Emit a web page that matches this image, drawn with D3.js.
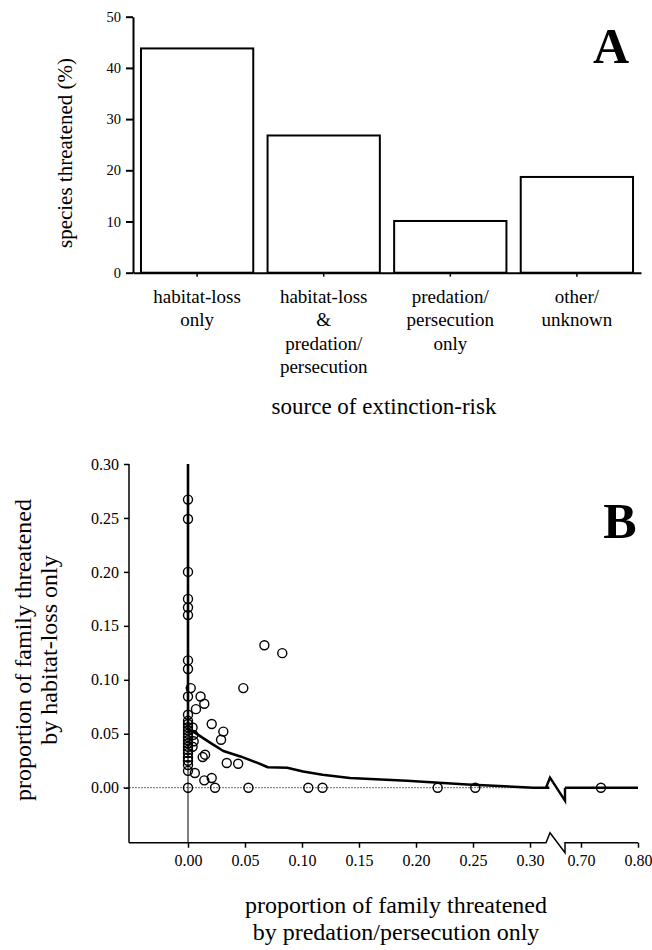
<!DOCTYPE html>
<html>
<head>
<meta charset="utf-8">
<script src="https://cdn.jsdelivr.net/npm/d3@7"></script>
<style>
  body { margin: 0; background: #fff; }
  svg { display: block; }
</style>
</head>
<body>
<div id="chart"></div>
<script>
// Panel A: share of threatened species by source of risk
const categories = [
  ["habitat-loss", "only"],
  ["habitat-loss", "&", "predation/", "persecution"],
  ["predation/", "persecution", "only"],
  ["other/", "unknown"]
];
const percentThreatened = [43.8, 26.8, 10.1, 18.7];
const yTicksA = [0, 10, 20, 30, 40, 50];

// Panel B: family proportions (x = predation/persecution only, y = habitat-loss only)
const pointX = [
  0, 0, 0, 0, 0, 0, 0, 0, 0, 0, 0,
  0, 0, 0, 0, 0, 0, 0, 0, 0, 0, 0, 0, 0, 0, 0,
  0.0024, 0.011, 0.0143, 0.007, 0.0208, 0.031, 0.029, 0.0047, 0.004, 0.005, 0.004,
  0.015, 0.0129, 0.034, 0.044, 0.006, 0.0143, 0.0208, 0.0237,
  0.067, 0.0827, 0.0485,
  0.053, 0.1055, 0.118, 0.219, 0.252, 0.735
];
const pointY = [
  0.267, 0.249, 0.200, 0.175, 0.167, 0.160, 0.118, 0.110, 0.0845, 0.0676, 0,
  0.062, 0.059, 0.056, 0.053, 0.050, 0.047, 0.044, 0.041, 0.038, 0.035, 0.032, 0.028, 0.025, 0.021, 0.0156,
  0.0923, 0.0845, 0.0778, 0.0728, 0.059, 0.052, 0.0444, 0.049, 0.0558, 0.043, 0.038,
  0.0306, 0.0284, 0.0229, 0.0222, 0.0136, 0.0068, 0.009, 0,
  0.132, 0.1247, 0.0923,
  0, 0, 0, 0, 0, 0
];
// fitted curve, left of the axis break
const curveX = [0, 0, 0.006, 0.019, 0.031, 0.046, 0.061, 0.070, 0.087, 0.101, 0.118, 0.142, 0.192, 0.245, 0.303, 0.317];
const curveY = [0.30, 0.054, 0.051, 0.042, 0.034, 0.029, 0.023, 0.019, 0.0185, 0.015, 0.012, 0.009, 0.0065, 0.003, 0, 0];
// fitted curve, right of the axis break
const curveRightX = [0.672, 0.80];
const curveRightY = [0, 0];
const xTicksLeft = [0, 0.05, 0.10, 0.15, 0.20, 0.25, 0.30];
const xTicksRight = [0.70, 0.80];
const yTicksB = [0, 0.05, 0.10, 0.15, 0.20, 0.25, 0.30];

const serif = '"Liberation Serif", "Times New Roman", Times, "DejaVu Serif", serif';
const width = 652, height = 950;
const svg = d3.select("#chart").append("svg")
  .attr("width", width)
  .attr("height", height)
  .attr("font-family", serif);

// ---------- Panel A ----------
const xA = d3.scaleBand()
  .domain(categories.map((c, i) => i))
  .range([133, 641])
  .paddingInner(0.113)
  .paddingOuter(0.063);

const yA = d3.scaleLinear()
  .domain([0, 50])
  .range([272.7, 16.7]);

const gA = svg.append("g");

gA.selectAll(".bar")
  .data(percentThreatened)
  .enter()
  .append("rect")
  .attr("class", "bar")
  .attr("x", (d, i) => xA(i))
  .attr("y", d => yA(d))
  .attr("width", xA.bandwidth())
  .attr("height", d => yA(0) - yA(d))
  .attr("fill", "#fff")
  .attr("stroke", "#000")
  .attr("stroke-width", 2);

const yAxisA = gA.append("g")
  .attr("transform", "translate(133,0)")
  .call(d3.axisLeft(yA).tickValues(yTicksA).tickSizeInner(7).tickSizeOuter(0).tickPadding(5))
  .attr("font-family", serif)
  .attr("font-size", 14.5);
yAxisA.selectAll("text").attr("fill", "#000");
yAxisA.selectAll("path, line").attr("stroke", "#000").attr("stroke-width", 2);

const xAxisA = gA.append("g")
  .attr("transform", `translate(0,${yA(0)})`)
  .call(d3.axisBottom(xA).tickSizeInner(4).tickSizeOuter(0).tickFormat(""));
xAxisA.select("path.domain").attr("stroke", "#000").attr("stroke-width", 2);
xAxisA.selectAll("line").attr("stroke", "#000").attr("stroke-width", 1.5);

const catLabels = gA.selectAll(".cat")
  .data(categories)
  .enter()
  .append("text")
  .attr("class", "cat")
  .attr("text-anchor", "middle")
  .attr("font-size", 19);
catLabels.each(function(lines, i) {
  const t = d3.select(this);
  lines.forEach((ln, j) => {
    t.append("tspan")
      .attr("x", xA(i) + xA.bandwidth() / 2)
      .attr("y", 303 + j * 23.3)
      .text(ln);
  });
});

gA.append("text")
  .attr("transform", "translate(72,153) rotate(-90)")
  .attr("text-anchor", "middle")
  .attr("font-size", 21)
  .text("species threatened (%)");

gA.append("text")
  .attr("x", 384)
  .attr("y", 414)
  .attr("text-anchor", "middle")
  .attr("font-size", 23)
  .text("source of extinction-risk");

gA.append("text")
  .attr("x", 611)
  .attr("y", 63)
  .attr("text-anchor", "middle")
  .attr("font-size", 50)
  .attr("font-weight", "bold")
  .text("A");

// ---------- Panel B ----------
const xL = d3.scaleLinear().domain([0, 0.30]).range([188, 530]);
const xR = d3.scaleLinear().domain([0.70, 0.80]).range([581, 638]);
const xB = v => (v > 0.5 ? xR(v) : xL(v));
const yB = d3.scaleLinear().domain([0, 0.30]).range([787.7, 464]);
const axisX0 = 129;
const axisY0 = yB(-0.051);
const breakL = 550, breakR = 565;

const gB = svg.append("g");

// reference lines at zero
gB.append("line")
  .attr("x1", 123).attr("x2", breakL - 4)
  .attr("y1", yB(0)).attr("y2", yB(0))
  .attr("stroke", "#444").attr("stroke-width", 0.8)
  .attr("stroke-dasharray", "2,1");
gB.append("line")
  .attr("x1", xL(0)).attr("x2", xL(0))
  .attr("y1", yB(0.30)).attr("y2", axisY0)
  .attr("stroke", "#000").attr("stroke-width", 1);

// axes
const yAxisB = gB.append("g")
  .attr("transform", `translate(${axisX0},0)`)
  .call(d3.axisLeft(yB).tickValues(yTicksB).tickFormat(d3.format(".2f")).tickSizeInner(5).tickSizeOuter(0).tickPadding(5))
  .attr("font-family", serif)
  .attr("font-size", 16);
yAxisB.select("path.domain").remove();
yAxisB.selectAll("line").attr("stroke", "#000").attr("stroke-width", 1.5);
gB.append("line")
  .attr("x1", axisX0).attr("x2", axisX0)
  .attr("y1", yB(0.30)).attr("y2", axisY0)
  .attr("stroke", "#000").attr("stroke-width", 1.5);

const xAxisBL = gB.append("g")
  .attr("transform", `translate(0,${axisY0})`)
  .call(d3.axisBottom(xL).tickValues(xTicksLeft).tickFormat(d3.format(".2f")).tickSizeInner(5).tickSizeOuter(0).tickPadding(7));
const xAxisBR = gB.append("g")
  .attr("transform", `translate(0,${axisY0})`)
  .call(d3.axisBottom(xR).tickValues(xTicksRight).tickFormat(d3.format(".2f")).tickSizeInner(5).tickSizeOuter(0).tickPadding(7));
[xAxisBL, xAxisBR].forEach(a => {
  a.attr("font-family", serif).attr("font-size", 16);
  a.select("path.domain").remove();
  a.selectAll("line").attr("stroke", "#000").attr("stroke-width", 1.5);
});

// x axis line with break symbol
gB.append("path")
  .attr("d", `M${axisX0},${axisY0}H${breakL - 4}L${breakL},${axisY0 - 10}L${breakR},${axisY0 + 10}V${axisY0}H${xR(0.80)}`)
  .attr("fill", "none")
  .attr("stroke", "#000")
  .attr("stroke-width", 1.5);

// fitted curve
const line = d3.line().x(d => xL(d[0])).y(d => yB(d[1]));
gB.append("path")
  .datum(curveX.map((x, i) => [x, curveY[i]]))
  .attr("d", line)
  .attr("fill", "none")
  .attr("stroke", "#000")
  .attr("stroke-width", 2.6)
  .attr("stroke-linejoin", "round");
const lineR = d3.line().x(d => xR(d[0])).y(d => yB(d[1]));
gB.append("path")
  .datum(curveRightX.map((x, i) => [x, curveRightY[i]]))
  .attr("d", lineR)
  .attr("fill", "none")
  .attr("stroke", "#000")
  .attr("stroke-width", 2.6);
// break symbol on the curve
const y0 = yB(0);
gB.append("path")
  .attr("d", `M${breakL - 4},${y0}L${breakL},${y0 - 10}L${breakR},${y0 + 13}V${y0}`)
  .attr("fill", "none")
  .attr("stroke", "#000")
  .attr("stroke-width", 2.4);

// points
gB.selectAll(".pt")
  .data(pointX.map((x, i) => [x, pointY[i]]))
  .enter()
  .append("circle")
  .attr("class", "pt")
  .attr("cx", d => xB(d[0]))
  .attr("cy", d => yB(d[1]))
  .attr("r", 4.5)
  .attr("fill", "none")
  .attr("stroke", "#000")
  .attr("stroke-width", 1.4);

// titles
gB.append("text")
  .attr("transform", "translate(31,650) rotate(-90)")
  .attr("text-anchor", "middle")
  .attr("font-size", 24)
  .text("proportion of family threatened");
gB.append("text")
  .attr("transform", "translate(57,650) rotate(-90)")
  .attr("text-anchor", "middle")
  .attr("font-size", 24)
  .text("by habitat-loss only");

gB.append("text")
  .attr("x", 396)
  .attr("y", 913)
  .attr("text-anchor", "middle")
  .attr("font-size", 24)
  .text("proportion of family threatened");
gB.append("text")
  .attr("x", 396)
  .attr("y", 940)
  .attr("text-anchor", "middle")
  .attr("font-size", 24)
  .text("by predation/persecution only");

gB.append("text")
  .attr("x", 620)
  .attr("y", 538)
  .attr("text-anchor", "middle")
  .attr("font-size", 50)
  .attr("font-weight", "bold")
  .text("B");
</script>
</body>
</html>
